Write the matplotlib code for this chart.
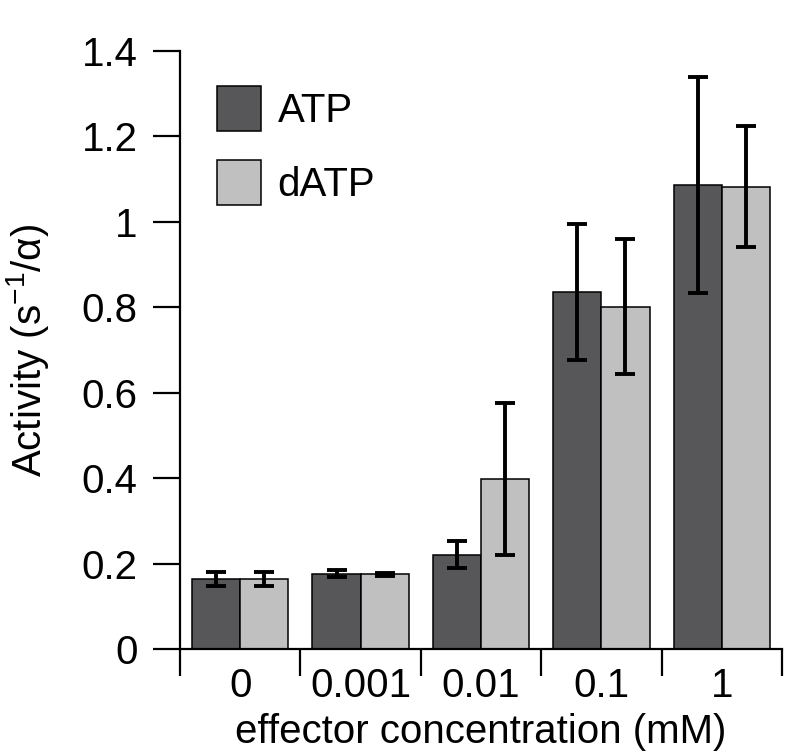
import matplotlib
matplotlib.use("Agg")
import matplotlib.pyplot as plt
import numpy as np

plt.rcParams["font.family"] = ["Liberation Sans", "DejaVu Sans"]
plt.rcParams["mathtext.default"] = "regular"

# データ
濃度 = ["0", "0.001", "0.01", "0.1", "1"]
ATP平均 = [0.164, 0.176, 0.221, 0.836, 1.086]
ATP誤差 = [0.016, 0.008, 0.032, 0.160, 0.252]
dATP平均 = [0.164, 0.175, 0.398, 0.801, 1.082]
dATP誤差 = [0.016, 0.004, 0.178, 0.158, 0.142]
y目盛 = [0, 0.2, 0.4, 0.6, 0.8, 1.0, 1.2, 1.4]

濃い色 = "#575759"
薄い色 = "#c0c0c0"
文字 = 29

fig = plt.figure(figsize=(8, 7.55), dpi=100)
ax = fig.add_axes([180 / 800, 106 / 755, 602 / 800, 598 / 755])

x = np.arange(len(濃度))
幅 = 0.4
ax.bar(x - 幅 / 2, ATP平均, 幅, color=濃い色, edgecolor="black", linewidth=1.1, label="ATP")
ax.bar(x + 幅 / 2, dATP平均, 幅, color=薄い色, edgecolor="black", linewidth=1.1, label="dATP")

# エラーバー
for 位置, 平均, 誤差 in [(x - 幅 / 2, ATP平均, ATP誤差), (x + 幅 / 2, dATP平均, dATP誤差)]:
    ax.errorbar(位置, 平均, yerr=誤差, fmt="none", ecolor="black",
                elinewidth=2.8, capsize=7.5, capthick=2.8)

ax.set_xlim(-0.5, 4.5)
ax.set_ylim(0, 1.4)

# 軸の見た目
for s in ["top", "right"]:
    ax.spines[s].set_visible(False)
ax.spines["left"].set_linewidth(1.6)
ax.spines["bottom"].set_linewidth(1.6)

ax.set_yticks(y目盛)
ax.set_yticklabels(["%g" % v for v in y目盛])
ax.tick_params(axis="y", direction="out", length=19.5, width=1.6, pad=11, labelsize=文字)

# 区切り目盛（下向き）と中央のラベル
ax.set_xticks(np.arange(-0.5, 5, 1.0))
ax.set_xticklabels([])
ax.set_xticks(x, minor=True)
ax.set_xticklabels(濃度, minor=True)
ax.tick_params(axis="x", which="major", direction="out", length=19.5, width=1.6)
ax.tick_params(axis="x", which="minor", length=0, pad=13, labelsize=文字)

ax.set_xlabel("effector concentration (mM)", fontsize=文字, labelpad=6)
ax.set_ylabel("Activity (s$^{-1}$/α)", fontsize=文字, labelpad=22)

ax.legend(loc="upper left", bbox_to_anchor=(0.035, 0.968), frameon=False,
          fontsize=文字, handlelength=1.1, handleheight=1.35,
          handletextpad=0.4, labelspacing=0.7, borderaxespad=0)

fig.savefig("out.png", dpi=100)
